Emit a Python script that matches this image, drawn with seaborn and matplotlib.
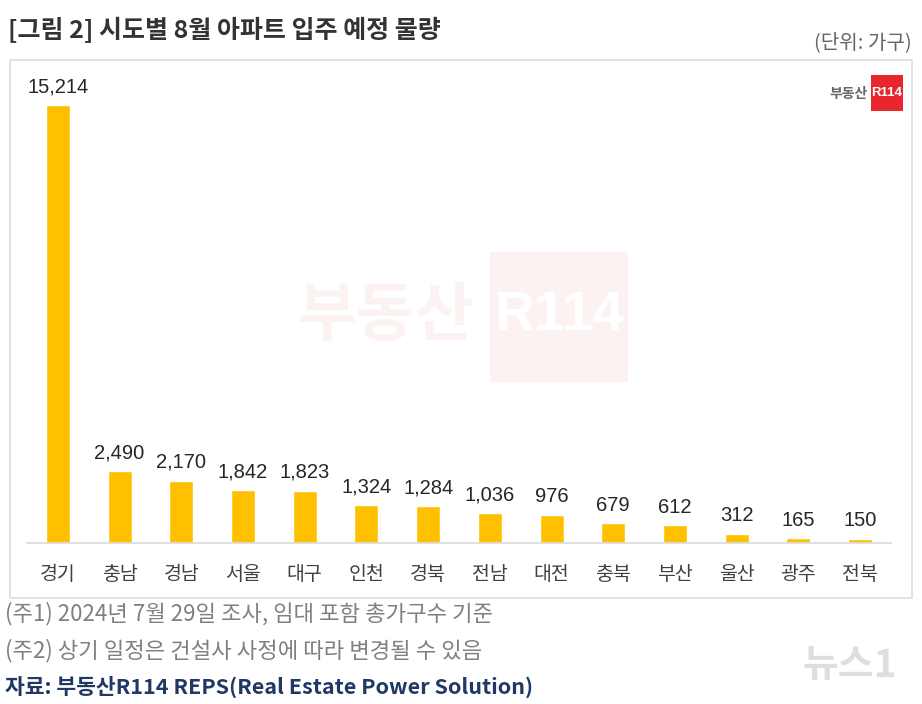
import numpy as np
import pandas as pd
import matplotlib
matplotlib.use("Agg")
import matplotlib.pyplot as plt
import seaborn as sns
from matplotlib.patches import Rectangle

regions = ["경기", "충남", "경남", "서울", "대구", "인천", "경북", "전남", "대전", "충북", "부산", "울산", "광주", "전북"]
units = [15214, 2490, 2170, 1842, 1823, 1324, 1284, 1036, 976, 679, 612, 312, 165, 150]

title = "[그림 2] 시도별 8월 아파트 입주 예정 물량"
unit_label = "(단위: 가구)"
note1 = "(주1) 2024년 7월 29일 조사, 임대 포함 총가구수 기준"
note2 = "(주2) 상기 일정은 건설사 사정에 따라 변경될 수 있음"
source = "자료: 부동산R114 REPS(Real Estate Power Solution)"

sns.set_theme(style="white")
plt.rcParams['font.family'] = ['Liberation Sans', 'Noto Sans CJK KR', 'DejaVu Sans']
kr = ['Noto Sans CJK KR', 'DejaVu Sans']

df = pd.DataFrame({"region": regions, "units": units})

W, H = 922, 704
def fx(px):
    return px / W
def fy(py):
    return 1 - py / H

fig = plt.figure(figsize=(9.22, 7.04), dpi=100)
fig.patch.set_facecolor("white")

# panel frame
fig.patches.append(Rectangle((fx(10), fy(598)), 902/W, 538/H, transform=fig.transFigure,
                             fill=False, edgecolor="#dddddd", linewidth=1.2))

# watermark
fig.patches.append(Rectangle((fx(490), fy(382)), 138/W, 130/H, transform=fig.transFigure,
                             facecolor="#e60012", edgecolor="none", alpha=0.05, zorder=0))
fig.text(fx(385), fy(316), "부동산", family=kr, fontsize=46, fontweight="bold", color="#e60012",
         alpha=0.05, ha="center", va="center")
fig.text(fx(559), fy(316), "R114", fontsize=40, fontweight="bold", color="white", ha="center", va="center")

ax = fig.add_axes([fx(27), fy(543), 864/W, 475/H])
sns.barplot(data=df, x="region", y="units", color="#FFC000", width=0.39, saturation=1, ax=ax)
ax.set_xlim(-0.5, len(regions)-0.5)
ax.set_ylim(0, 16500)
ax.set_xlabel("")
ax.set_ylabel("")
ax.set_yticks([])
for s in ["top", "right", "left"]:
    ax.spines[s].set_visible(False)
ax.spines["bottom"].set_color("#d9d9d9")
ax.spines["bottom"].set_linewidth(1.2)
ax.tick_params(axis="x", length=0, pad=15)
for lab in ax.get_xticklabels():
    lab.set_fontsize(14)
    lab.set_color("#404040")
    lab.set_family(kr)
ax.set_facecolor("none")

for i, v in enumerate(units):
    ax.text(i, v + 300, f"{v:,}", ha="center", va="bottom", fontsize=14.5, color="#262626")

# logo top right
fig.patches.append(Rectangle((fx(871), fy(111)), 32/W, 36/H, transform=fig.transFigure,
                             facecolor="#e8262d", edgecolor="none"))
fig.text(fx(887), fy(93), "R114", fontsize=9.5, fontweight="bold", color="white", ha="center", va="center")
fig.text(fx(868), fy(94), "부동산", family=kr, fontsize=10, fontweight="bold", color="#666666",
         ha="right", va="center")

fig.text(fx(8), fy(30), title, family=kr, fontsize=18, fontweight="bold", color="#333333", va="center")
fig.text(fx(912), fy(43), unit_label, family=kr, fontsize=14.5, color="#666666", ha="right", va="center")
fig.text(fx(5), fy(614), note1, family=kr, fontsize=16, color="#808080", va="center")
fig.text(fx(5), fy(651), note2, family=kr, fontsize=16, color="#808080", va="center")
fig.text(fx(5), fy(687), source, family=kr, fontsize=15.5, fontweight="bold", color="#1f3864", va="center")
fig.text(fx(850), fy(665), "뉴스1", family=kr, fontsize=28, fontweight="bold", fontstyle="italic",
         color="#c8c8c8", alpha=0.6, ha="center", va="center")

fig.savefig("out.png", dpi=100)
